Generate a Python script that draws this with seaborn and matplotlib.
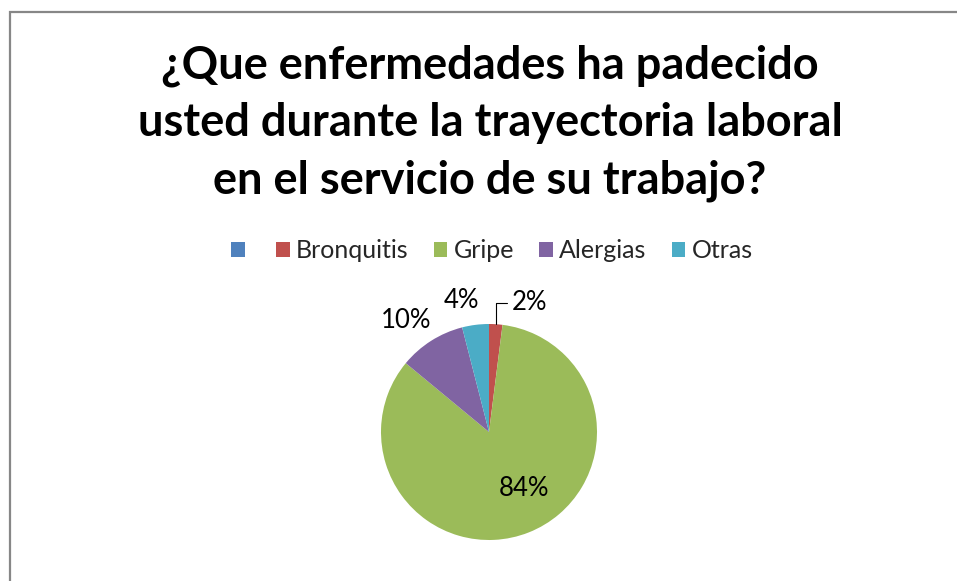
import numpy as np
import matplotlib
matplotlib.use("Agg")
import matplotlib.pyplot as plt
from matplotlib.patches import Rectangle
import seaborn as sns

# Data
categories = ["", "Bronquitis", "Gripe", "Alergias", "Otras"]
values = [0, 2, 84, 10, 4]
colors = ["#4F81BD", "#C0504D", "#9BBB59", "#8064A2", "#4BACC6"]
title = "¿Que enfermedades ha padecido\nusted durante la trayectoria laboral\nen el servicio de su trabajo?"

sns.set_theme(style="white")
plt.rcParams["font.family"] = ["Lato", "DejaVu Sans"]

fig = plt.figure(figsize=(9.57, 5.81), dpi=100)
fig.patch.set_facecolor("white")

# outer chart border (only top/left visible in reference)
fig.patches.append(Rectangle((9.5 / 957, -0.1), 1.2, 1 - 11.5 / 581 + 0.1,
                             transform=fig.transFigure, fill=False,
                             edgecolor="#878787", linewidth=1.6))

fig.text(0.512, 1 - 123 / 581, title, ha="center", va="center", fontsize=32.5,
         fontweight="bold", color="black", linespacing=1.45)

# pie axes: center (489, 432) px, radius 108 px
W, H = 957, 581
cx, cy, r = 489, 432, 108
ax = fig.add_axes([(cx - r) / W, (H - cy - r) / H, 2 * r / W, 2 * r / H])
wedges, _ = ax.pie(values, colors=colors, startangle=90, counterclock=False,
                   wedgeprops=dict(linewidth=0))
ax.set_xlim(-1, 1)
ax.set_ylim(-1, 1)
ax.set_aspect("equal")

for w, v in zip(wedges, values):
    if v == 0:
        continue
    ang = np.deg2rad((w.theta1 + w.theta2) / 2)
    c, s = np.cos(ang), np.sin(ang)
    label = f"{v}%"
    if v >= 50:
        ax.text(0.62 * c + 0.1, 0.62 * s + 0.05, label, ha="center", va="center",
                fontsize=18.5, color="black")
    elif v <= 2:
        ax.annotate(label, xy=(c, s), xytext=(c + 0.15, s + 0.2),
                    ha="left", va="center", fontsize=18.5, color="black",
                    arrowprops=dict(arrowstyle="-", color="black", lw=0.8,
                                    connectionstyle="angle,angleA=0,angleB=90,rad=0",
                                    shrinkA=1, shrinkB=0))
    else:
        ax.text(1.25 * c - 0.1, 1.25 * s - 0.02, label, ha="center", va="center",
                fontsize=18.5, color="black")

handles = [Rectangle((0, 0), 1, 1, facecolor=c, edgecolor="none") for c in colors]
fig.legend(handles, categories, loc="center", bbox_to_anchor=(0.514, 1 - 251 / H),
           ncol=5, frameon=False, fontsize=18, handlelength=0.55, handleheight=0.55,
           handletextpad=0.25, columnspacing=1.0)

fig.savefig("out.png", dpi=100)
